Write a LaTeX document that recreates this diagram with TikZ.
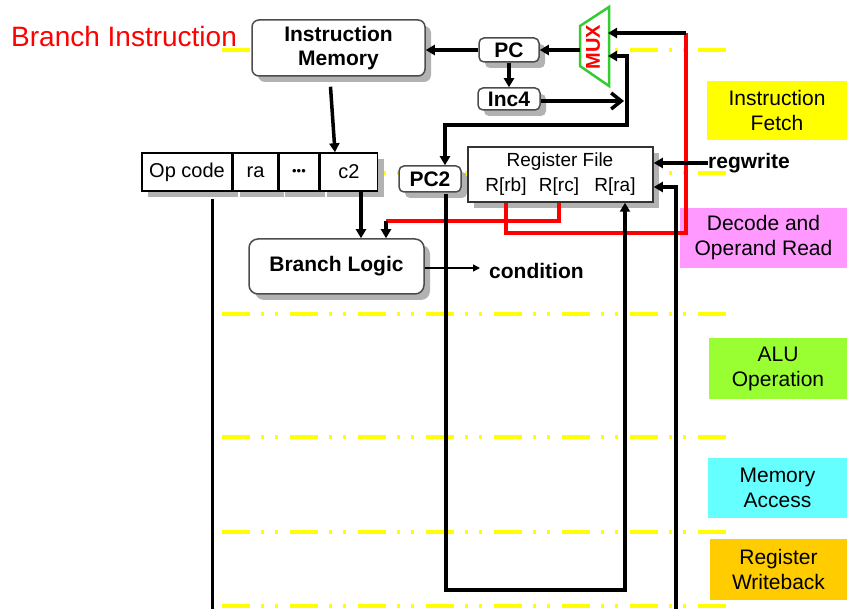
\documentclass[tikz,border=0pt]{standalone}
\usepackage{fontspec}
\setmainfont{Liberation Sans}
\usetikzlibrary{arrows.meta,positioning,fit,backgrounds,shadows}

\definecolor{pipeyellow}{RGB}{255,255,0}
\definecolor{decpink}{RGB}{255,153,255}
\definecolor{alugreen}{RGB}{153,255,51}
\definecolor{memcyan}{RGB}{102,255,255}
\definecolor{wborange}{RGB}{255,204,0}
\definecolor{muxgreen}{RGB}{51,204,51}

\begin{document}
\begin{tikzpicture}[
  x=1pt, y=-1pt,
  font=\fontsize{20}{24}\selectfont,
  >={Triangle[length=9pt,width=10pt]},
  shade/.style={drop shadow={shadow xshift=6pt,shadow yshift=-6pt,fill=black!30,opacity=1}},
  unit/.style={draw=black!70, line width=1.5pt, rounded corners=7pt, fill=white,
               align=center, inner sep=0pt, shade,
               font=\fontsize{21}{24}\selectfont\bfseries},
  field/.style={draw, line width=1.5pt, fill=white, minimum height=38pt,
                inner sep=0pt, shade},
  stage/.style={align=center, inner sep=0pt, minimum height=60pt,
                font=\fontsize{21}{25}\selectfont},
  pipe/.style={pipeyellow, line width=4pt,
               dash pattern=on 28pt off 11pt on 3pt off 11pt on 3pt off 12pt},
  bus/.style={->, line width=3.5pt},
  sel/.style={red, line width=3.5pt},
  tag/.style={anchor=west, inner sep=0pt, font=\fontsize{21}{24}\selectfont\bfseries}
]
\useasboundingbox (0,0) rectangle (847,609);

% ---- stage boundaries ----
\begin{scope}[on background layer]
\foreach \yy in {50,173,314,437,532,606}
  \draw[pipe] (222,\yy) -- (730,\yy);
\end{scope}

% ---- fetch ----
\node[red, anchor=west, inner sep=0pt, font=\fontsize{28}{30}\selectfont] (ttl) at (11,36) {Branch Instruction};
\node[unit, minimum width=173pt, minimum height=56pt] (imem) at (338.5,48) {Instruction\\Memory};
\node[unit, rounded corners=5pt, minimum width=60pt, minimum height=24pt] (pc) at (509,50) {PC};
\node[unit, rounded corners=5pt, minimum width=62pt, minimum height=22pt] (inc) at (509,99) {Inc4};

\draw[muxgreen, line width=2.5pt, fill=white] (580,26) -- (609,7) -- (609,86) -- (580,66) -- cycle;
\node[red, rotate=90, inner sep=0pt, font=\fontsize{20}{20}\selectfont\bfseries] (mux) at (593,47) {MUX};
\coordinate (muxout) at (580,50);
\coordinate (muxin1) at (608,33);
\coordinate (muxin2) at (608,56);
\coordinate (muxtop) at (686,33);
\coordinate (tap) at (624,101);
\coordinate (split) at (627,125);

% ---- decode ----
\node[field, minimum width=90pt] (op) at (187,172) {Op code};
\node[field, minimum width=44pt, right=0pt of op] (fra) {ra};
\node[field, minimum width=40pt, right=0pt of fra] (fdot) {\fontsize{13}{13}\selectfont •••};
\node[field, minimum width=57pt, right=0pt of fdot] (fc2) {c2};

\node[unit, rounded corners=5pt, minimum width=62pt, minimum height=26pt] (pc2) at (430,179) {PC2};
\node[draw=black!80, line width=1.5pt, fill=white, shade, minimum width=185pt,
      minimum height=55pt] (rf) at (560.5,174.5) {};
\node[font=\fontsize{19}{19}\selectfont] (rft) at (560,162) {Register File};
\node[font=\fontsize{19}{19}\selectfont] (rb) at (506,187) {R[rb]};
\node[font=\fontsize{19}{19}\selectfont] (rc) at (559,187) {R[rc]};
\node[font=\fontsize{19}{19}\selectfont] (ra) at (615,187) {R[ra]};
\node[tag] (rw) at (708,163) {regwrite};

\node[unit, rounded corners=9pt, minimum width=175pt, minimum height=55pt] (bl) at (336.5,266.5) {Branch Logic};
\node[tag] (cond) at (489,271) {condition};
\coordinate (blin) at (386,221);

\coordinate (wbl) at (625,590);
\coordinate (wbin) at (676,609);
\coordinate (opout) at (212,609);

% ---- stage labels ----
\node[stage, fill=pipeyellow, minimum width=140pt, minimum height=59pt] (fetch) at (777,110.5) {Instruction\\Fetch};
\node[stage, fill=decpink, minimum width=167pt] (decode) at (763.5,238) {Decode and\\Operand Read};
\node[stage, fill=alugreen, minimum width=138pt, minimum height=61pt] (alu) at (778,368.5) {ALU\\Operation};
\node[stage, fill=memcyan, minimum width=139pt] (mem) at (777.5,488) {Memory\\Access};
\node[stage, fill=wborange, minimum width=137pt, minimum height=61pt] (wb) at (778.5,569.5) {Register\\Writeback};

% ---- connections ----
\draw[bus] (muxout) -- (pc.east);
\draw[bus] (pc.west) -- (imem.east |- pc.west);
\draw[bus] (pc.south) -- (inc.north);
\draw[line width=3.5pt, -{Straight Barb[length=10pt,width=16pt]}] (inc.east |- tap) -- (tap);
\draw[bus, <->] (muxin2) -| (split) -| ([xshift=15pt]pc2.north);
\draw[bus] ([xshift=-8pt,yshift=-10pt]imem.south) -- ([xshift=-14pt]fc2.north);
\draw[bus] ([xshift=12pt]fc2.south) -- ([xshift=12pt]fc2.south |- bl.north);

\draw[sel] (rc |- rf.south) |- (blin);
\draw[bus] (blin) -- (blin |- bl.north);
\draw[sel] (rb |- rf.south) |- (686,233) -- (muxtop);
\draw[bus] (muxtop) -- (muxin1);

\draw[line width=1.5pt, -{Triangle[length=7pt,width=7pt]}] (bl.east |- 0,268) -- ([xshift=-9pt]cond.west |- 0,268);
\draw[bus] (rw.west) -- (rf.east |- rw.west);
\draw[bus] ([xshift=16pt,yshift=-1pt]pc2.south) |- (wbl) -- (wbl |- rf.south);
\draw[bus] (wbin) |- (rf.east |- ra);
\draw[line width=3pt] ([xshift=25pt,yshift=-7pt]op.south) -- (opout);
\end{tikzpicture}
\end{document}
